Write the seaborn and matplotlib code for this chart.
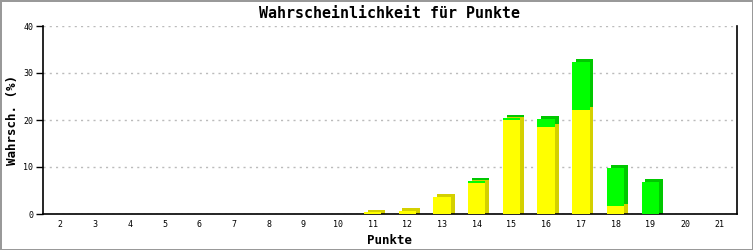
import matplotlib
matplotlib.use("Agg")
import matplotlib.pyplot as plt
import seaborn as sns
import numpy as np
import pandas as pd

punkte = [str(i) for i in range(2, 22)]
gelb = [0, 0, 0, 0, 0, 0, 0, 0, 0, 0.35, 0.6, 3.7, 6.7, 20.0, 18.5, 22.1, 1.6, 0, 0, 0]
gruen = [0, 0, 0, 0, 0, 0, 0, 0, 0, 0, 0, 0, 0.3, 0.4, 1.7, 10.2, 8.2, 6.8, 0, 0]

sns.set_style("white")
plt.rcParams['font.family'] = ['DejaVu Sans Mono', 'DejaVu Sans']
plt.rcParams.update({"text.color": "black", "axes.labelcolor": "black",
                     "xtick.color": "black", "ytick.color": "black"})

gelb_a = np.array(gelb)
gruen_a = np.array(gruen)
total = gelb_a + gruen_a
df = pd.DataFrame({"Punkte": punkte, "gelb": gelb_a, "total": total})

fig = plt.figure(figsize=(7.53, 2.5), dpi=100)
fig.patch.set_edgecolor("#999999")
fig.patch.set_linewidth(2)
ax = fig.add_axes([43/753, 1-214/250, (737-43)/753, (214-26)/250])

W = 0.5
dx, dy = 0.11, 0.6
idx = np.arange(len(punkte))
m_t = total > 0
m_g = gelb_a > 0
ax.bar(idx[m_t] + dx, total[m_t] + dy, width=W, color="#00C800", linewidth=0, zorder=2)
ax.bar(idx[m_g] + dx, gelb_a[m_g] + dy, width=W, color="#D4D000", linewidth=0, zorder=2)

sns.barplot(data=df, x="Punkte", y="total", color="#00FF00", saturation=1,
            width=W, ax=ax, zorder=3, linewidth=0)
sns.barplot(data=df, x="Punkte", y="gelb", color="#FFFF00", saturation=1,
            width=W, ax=ax, zorder=4, linewidth=0)

ax.set_xlim(-0.5, len(punkte) - 0.5)
ax.set_ylim(0, 40)
ax.set_yticks([0, 10, 20, 30, 40])
ax.yaxis.grid(True, linestyle=(0, (1.5, 3)), color="#bbbbbb", linewidth=1)
ax.set_axisbelow(True)
for s in ["left", "right", "bottom"]:
    ax.spines[s].set_visible(True)
    ax.spines[s].set_color("black")
    ax.spines[s].set_linewidth(1.2)
ax.spines["top"].set_visible(False)
ax.tick_params(axis="y", length=5, width=1, left=True, labelsize=6, pad=2)
ax.tick_params(axis="x", length=0, labelsize=6, pad=4)

ax.set_title("Wahrscheinlichkeit für Punkte", fontsize=10.8, fontweight="bold", pad=6)
ax.set_xlabel("Punkte", fontsize=9, fontweight="bold", labelpad=4)
ax.set_ylabel("Wahrsch. (%)", fontsize=9, fontweight="bold", labelpad=3)

fig.savefig("out.png", dpi=100, edgecolor=fig.get_edgecolor())
